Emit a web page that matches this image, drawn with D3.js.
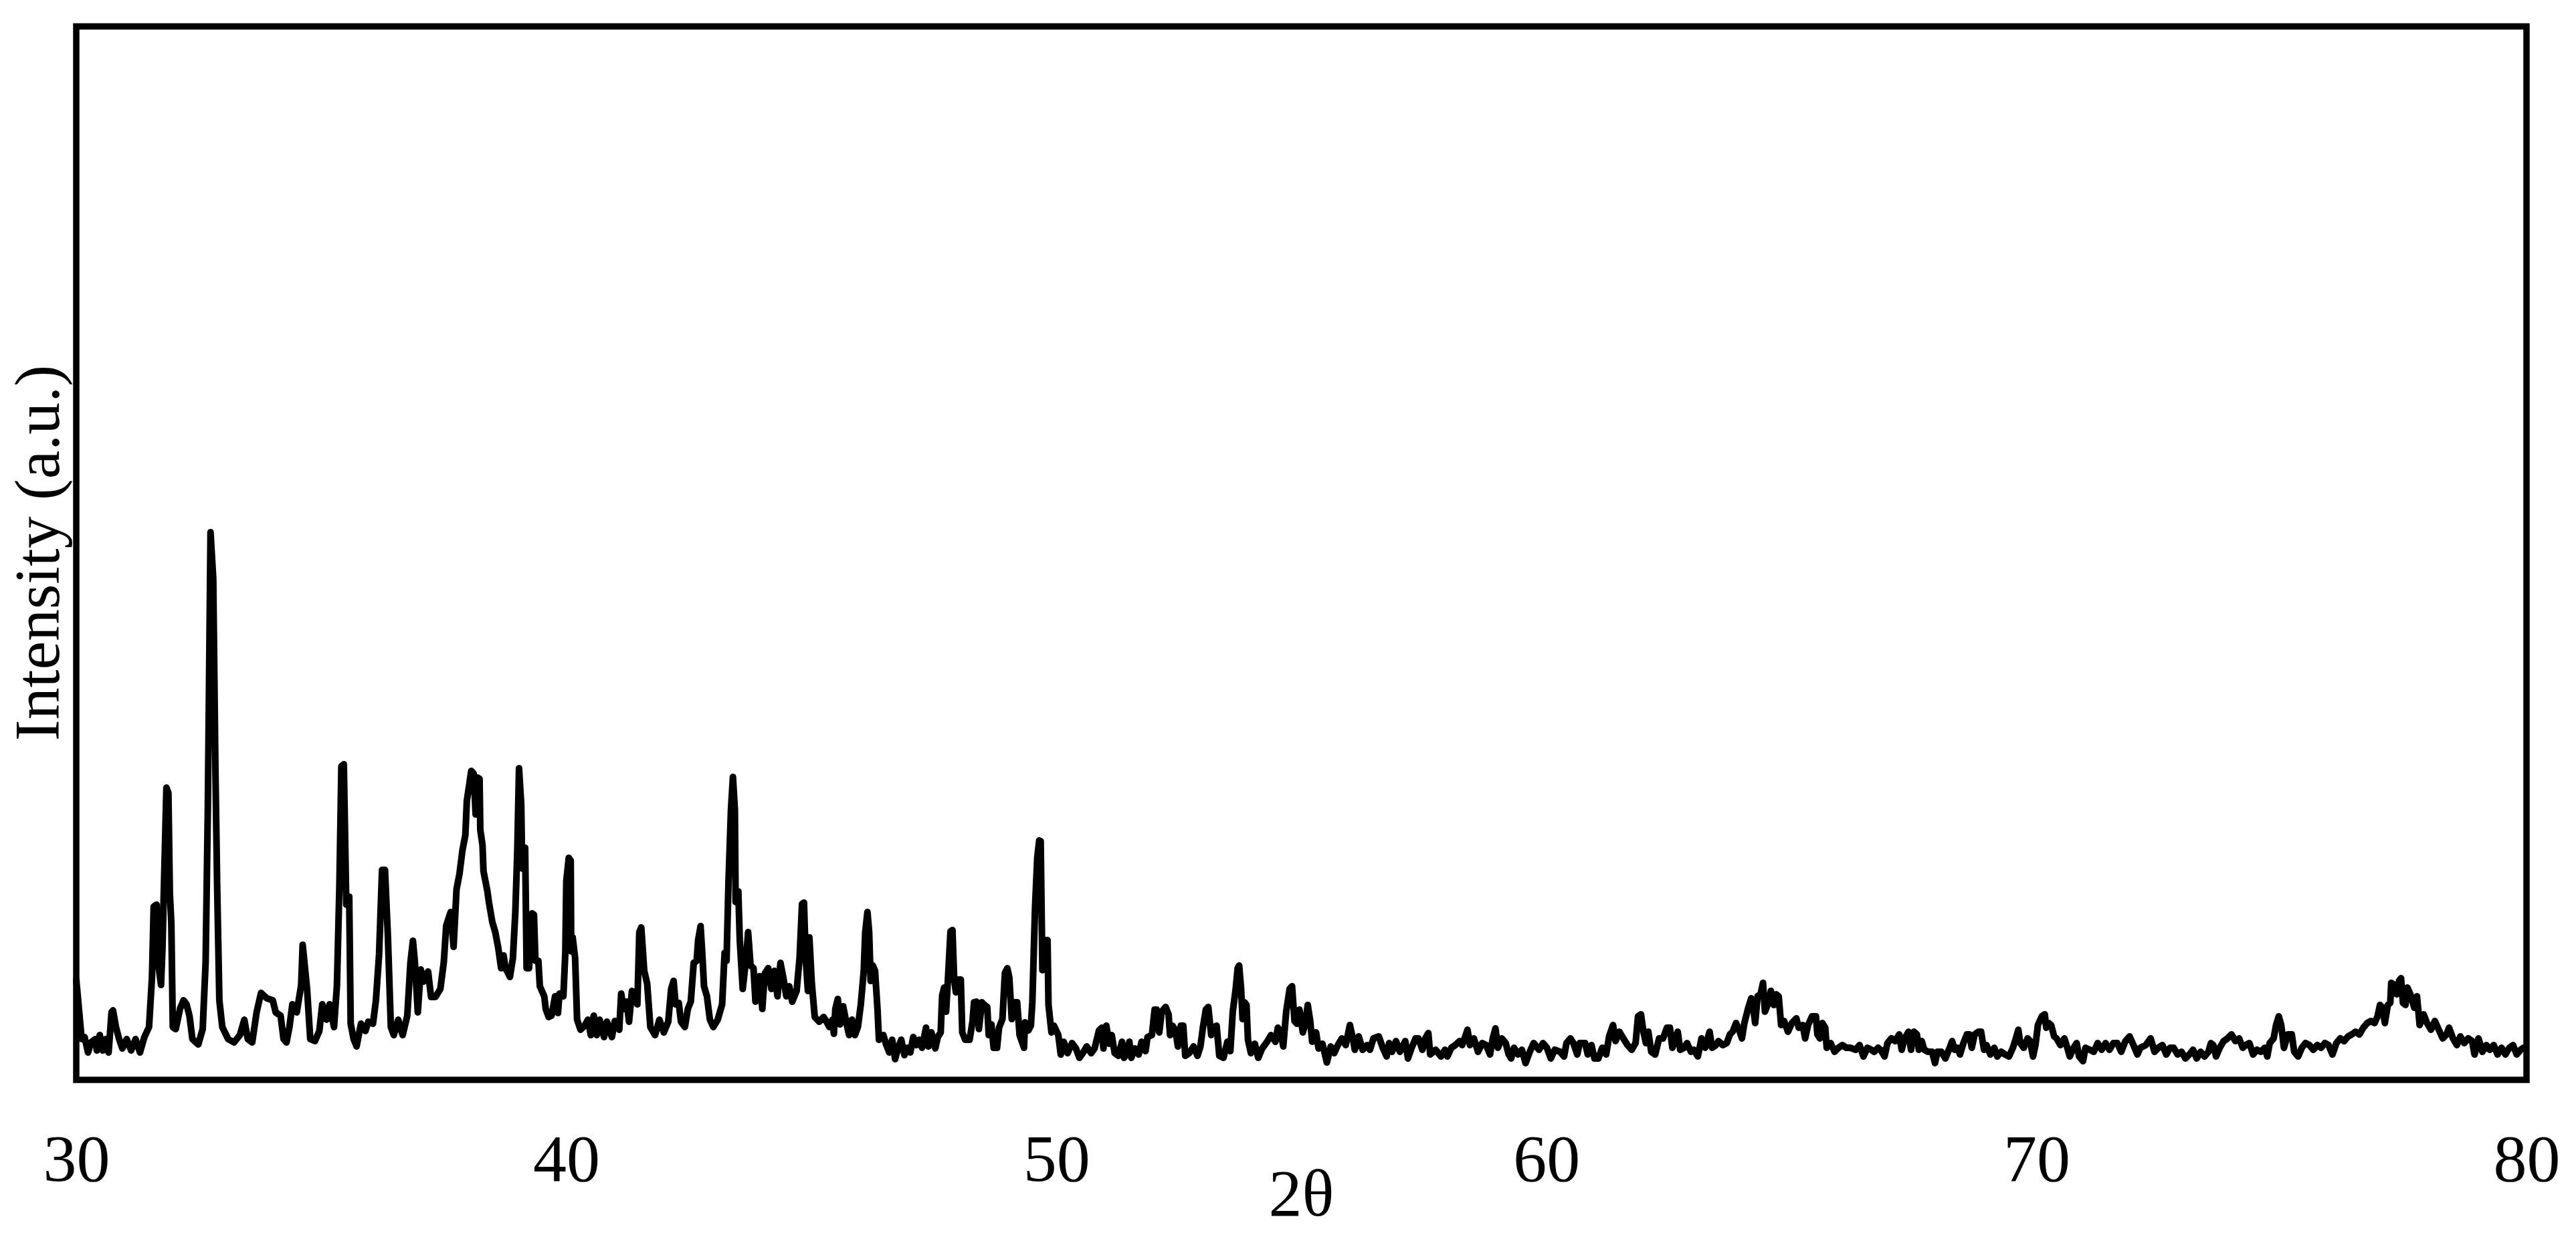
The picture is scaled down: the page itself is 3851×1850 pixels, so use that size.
<!DOCTYPE html>
<html><head><meta charset="utf-8">
<script src="https://cdn.jsdelivr.net/npm/d3@7"></script>
<style>html,body{margin:0;padding:0;background:#fff;} svg{display:block}</style>
</head><body>
<svg id="chart" width="3851" height="1850"></svg>
<script>
// XRD scan: [2θ (deg), intensity (a.u.)]
const xrdScan = [
[30.00,150],[30.11,61],[30.17,64],[30.24,41],[30.30,56],[30.39,61],[30.42,44],[30.48,67],[30.54,44],[30.60,61],
[30.66,41],[30.72,101],[30.75,104],[30.81,79],[30.875,61],[30.94,47],[31.03,61],[31.12,44],[31.21,61],[31.30,41],
[31.39,64],[31.485,79],[31.545,153],[31.58,259],[31.64,262],[31.67,176],[31.73,142],[31.76,199],[31.79,291],[31.84,437],
[31.88,429],[31.91,279],[31.94,234],[31.97,79],[32.03,76],[32.12,107],[32.19,119],[32.25,113],[32.31,96],[32.37,61],
[32.49,53],[32.58,76],[32.64,176],[32.685,406],[32.74,819],[32.795,750],[32.84,463],[32.875,291],[32.92,119],[32.98,79],
[33.10,61],[33.22,56],[33.34,67],[33.43,90],[33.50,61],[33.59,56],[33.68,101],[33.77,130],[33.89,122],[34.01,119],
[34.07,101],[34.17,96],[34.23,61],[34.29,56],[34.35,79],[34.41,113],[34.50,101],[34.59,142],[34.62,202],[34.71,136],
[34.775,61],[34.87,58],[34.96,73],[35.02,113],[35.11,90],[35.17,113],[35.26,79],[35.32,142],[35.37,291],[35.41,469],
[35.46,472],[35.51,262],[35.57,274],[35.60,84],[35.66,61],[35.72,50],[35.81,84],[35.90,73],[35.96,87],[36.055,84],
[36.115,119],[36.18,188],[36.24,314],[36.30,314],[36.36,213],[36.42,79],[36.48,67],[36.57,90],[36.66,67],[36.755,96],
[36.82,176],[36.87,208],[36.91,176],[36.97,101],[37.03,165],[37.09,147],[37.18,162],[37.24,124],[37.33,124],[37.43,136],
[37.50,176],[37.55,231],[37.64,251],[37.70,199],[37.76,285],[37.82,308],[37.88,343],[37.94,366],[37.97,417],[38.06,462],
[38.11,458],[38.15,397],[38.19,452],[38.23,450],[38.245,374],[38.29,351],[38.31,312],[38.39,282],[38.42,266],[38.49,236],
[38.55,221],[38.61,198],[38.67,167],[38.72,186],[38.76,167],[38.85,154],[38.91,182],[38.96,251],[39.00,343],[39.035,466],
[39.08,412],[39.10,316],[39.16,347],[39.19,167],[39.24,167],[39.30,249],[39.34,247],[39.37,178],[39.43,178],[39.46,140],
[39.55,125],[39.58,106],[39.64,94],[39.70,96],[39.77,125],[39.83,100],[39.86,129],[39.94,125],[39.98,190],[40.00,297],
[40.05,332],[40.09,328],[40.10,192],[40.13,213],[40.18,182],[40.22,90],[40.29,75],[40.375,81],[40.44,90],[40.50,67],
[40.56,96],[40.62,67],[40.68,90],[40.77,64],[40.83,87],[40.93,64],[40.99,88],[41.08,75],[41.12,129],[41.17,106],
[41.23,117],[41.28,87],[41.34,133],[41.41,121],[41.45,113],[41.49,221],[41.53,228],[41.59,163],[41.65,144],[41.715,79],
[41.81,67],[41.90,90],[41.99,71],[42.08,87],[42.14,136],[42.19,148],[42.23,113],[42.295,115],[42.34,87],[42.42,79],
[42.48,106],[42.54,117],[42.60,175],[42.66,178],[42.69,209],[42.74,230],[42.78,182],[42.81,140],[42.87,125],[42.93,90],
[43.00,79],[43.09,90],[43.18,113],[43.23,190],[43.27,178],[43.31,297],[43.36,404],[43.40,453],[43.44,404],[43.455,266],
[43.51,282],[43.54,209],[43.60,136],[43.67,182],[43.71,221],[43.76,171],[43.82,167],[43.86,117],[43.94,155],[44.00,106],
[44.05,159],[44.12,167],[44.185,136],[44.245,163],[44.31,125],[44.37,175],[44.43,152],[44.49,125],[44.55,140],[44.61,117],
[44.70,133],[44.76,182],[44.81,263],[44.85,265],[44.885,182],[44.93,133],[44.96,213],[45.01,144],[45.07,94],[45.16,87],
[45.25,94],[45.31,87],[45.37,79],[45.43,90],[45.46,69],[45.49,106],[45.54,121],[45.585,83],[45.65,110],[45.71,87],
[45.77,67],[45.83,90],[45.89,67],[45.95,79],[46.01,113],[46.07,163],[46.10,221],[46.145,251],[46.18,221],[46.21,148],
[46.255,171],[46.30,163],[46.35,106],[46.38,60],[46.47,67],[46.53,52],[46.59,41],[46.65,60],[46.71,31],[46.77,48],
[46.835,60],[46.90,37],[46.96,48],[47.02,41],[47.08,64],[47.14,52],[47.20,60],[47.26,48],[47.34,78],[47.39,50],
[47.45,71],[47.53,47],[47.58,64],[47.64,71],[47.67,126],[47.71,138],[47.75,102],[47.78,140],[47.84,222],[47.88,224],
[47.915,150],[47.95,131],[48.005,150],[48.05,150],[48.08,71],[48.14,60],[48.23,60],[48.29,88],[48.32,116],[48.37,117],
[48.42,76],[48.48,116],[48.535,112],[48.59,109],[48.62,67],[48.675,83],[48.72,48],[48.79,48],[48.83,78],[48.90,91],
[48.95,160],[49.00,167],[49.04,153],[49.09,91],[49.14,116],[49.20,116],[49.25,67],[49.34,48],[49.36,86],[49.43,74],
[49.48,81],[49.51,116],[49.565,257],[49.61,332],[49.65,358],[49.68,357],[49.715,164],[49.76,209],[49.82,209],[49.84,112],
[49.90,71],[49.95,81],[50.04,67],[50.09,38],[50.15,57],[50.23,40],[50.32,55],[50.40,47],[50.47,33],[50.54,40],
[50.62,50],[50.71,40],[50.78,47],[50.87,74],[50.93,78],[50.96,47],[51.02,81],[51.08,54],[51.13,67],[51.19,40],
[51.265,36],[51.34,57],[51.38,33],[51.44,40],[51.49,57],[51.53,33],[51.60,47],[51.68,38],[51.74,57],[51.82,43],
[51.86,64],[51.95,67],[52.005,105],[52.045,105],[52.10,71],[52.15,102],[52.23,109],[52.29,98],[52.32,67],[52.37,81],
[52.43,74],[52.48,50],[52.54,81],[52.59,81],[52.63,36],[52.71,40],[52.80,50],[52.88,36],[52.94,50],[52.99,78],
[53.05,105],[53.10,109],[53.16,67],[53.21,78],[53.27,81],[53.325,36],[53.41,33],[53.49,57],[53.55,43],[53.60,102],
[53.66,136],[53.70,167],[53.73,171],[53.77,136],[53.80,91],[53.84,116],[53.88,112],[53.91,60],[53.97,40],[54.05,54],
[54.12,33],[54.20,47],[54.30,57],[54.38,67],[54.47,57],[54.52,78],[54.58,71],[54.63,50],[54.69,102],[54.76,136],
[54.81,140],[54.86,88],[54.91,84],[54.96,105],[55.03,71],[55.08,84],[55.13,112],[55.18,88],[55.22,57],[55.30,71],
[55.35,47],[55.43,54],[55.52,26],[55.60,50],[55.67,40],[55.745,52],[55.825,62],[55.905,52],[55.99,82],[56.05,62],
[56.09,45],[56.17,65],[56.25,45],[56.34,52],[56.40,45],[56.47,62],[56.58,65],[56.66,48],[56.74,35],[56.79,55],
[56.85,42],[56.93,58],[57.01,42],[57.12,58],[57.175,32],[57.25,48],[57.33,62],[57.39,62],[57.47,45],[57.53,62],
[57.59,70],[57.63,38],[57.74,45],[57.85,35],[57.93,45],[57.98,35],[58.06,48],[58.14,52],[58.23,58],[58.28,52],
[58.33,62],[58.39,75],[58.44,52],[58.52,62],[58.605,42],[58.69,55],[58.77,52],[58.85,38],[58.905,62],[58.96,77],
[59.01,48],[59.09,62],[59.17,55],[59.23,38],[59.28,32],[59.34,48],[59.42,38],[59.50,45],[59.575,25],[59.66,42],
[59.74,55],[59.85,45],[59.93,55],[60.01,48],[60.09,32],[60.17,45],[60.28,42],[60.36,35],[60.41,55],[60.49,62],
[60.55,55],[60.63,38],[60.68,55],[60.79,55],[60.845,38],[60.92,52],[60.98,32],[61.06,32],[61.14,48],[61.22,38],
[61.28,65],[61.36,82],[61.41,58],[61.49,72],[61.57,62],[61.655,52],[61.74,45],[61.82,55],[61.87,95],[61.93,98],
[61.98,72],[62.03,55],[62.08,72],[62.14,42],[62.22,38],[62.30,62],[62.38,62],[62.46,78],[62.52,78],[62.57,48],
[62.62,58],[62.68,72],[62.73,45],[62.81,48],[62.87,55],[62.95,42],[63.01,45],[63.09,35],[63.165,62],[63.24,48],
[63.33,72],[63.38,48],[63.46,52],[63.51,58],[63.60,52],[63.68,55],[63.745,68],[63.80,72],[63.87,85],[63.93,75],
[63.99,62],[64.04,85],[64.12,108],[64.18,122],[64.23,102],[64.26,85],[64.31,125],[64.37,128],[64.42,145],[64.46,102],
[64.53,115],[64.58,133],[64.64,112],[64.69,128],[64.74,125],[64.79,82],[64.85,88],[64.93,72],[65.01,85],[65.10,92],
[65.15,78],[65.23,82],[65.28,62],[65.34,82],[65.42,95],[65.50,95],[65.53,68],[65.58,62],[65.63,85],[65.69,78],
[65.72,48],[65.80,55],[65.88,42],[65.96,48],[66.04,52],[66.12,48],[66.20,48],[66.31,45],[66.39,52],[66.47,35],
[66.55,48],[66.63,45],[66.69,42],[66.77,48],[66.82,45],[66.90,35],[66.96,55],[67.04,62],[67.12,58],[67.20,68],
[67.25,45],[67.31,62],[67.39,72],[67.44,45],[67.50,72],[67.56,68],[67.60,45],[67.66,58],[67.71,45],[67.79,42],
[67.87,42],[67.93,25],[67.98,42],[68.06,42],[68.14,32],[68.23,48],[68.28,58],[68.33,45],[68.39,48],[68.44,38],
[68.51,55],[68.58,68],[68.63,68],[68.68,48],[68.74,68],[68.82,72],[68.87,72],[68.93,45],[68.98,52],[69.06,38],
[69.14,48],[69.20,35],[69.28,42],[69.36,38],[69.44,35],[69.52,48],[69.58,62],[69.63,75],[69.67,55],[69.74,48],
[69.82,62],[69.87,58],[69.93,35],[69.98,52],[70.03,82],[70.11,95],[70.17,98],[70.20,78],[70.25,85],[70.30,82],
[70.36,65],[70.41,62],[70.49,52],[70.57,62],[70.63,48],[70.68,35],[70.76,48],[70.82,55],[70.87,35],[70.95,28],
[71.00,48],[71.09,45],[71.17,42],[71.25,55],[71.33,45],[71.41,55],[71.49,45],[71.57,55],[71.65,55],[71.73,42],
[71.815,58],[71.90,65],[71.98,52],[72.06,38],[72.12,48],[72.23,52],[72.33,62],[72.41,42],[72.49,48],[72.57,52],
[72.65,38],[72.725,48],[72.80,48],[72.88,38],[72.96,42],[73.04,32],[73.12,38],[73.195,45],[73.27,32],[73.35,42],
[73.43,35],[73.51,42],[73.56,55],[73.61,52],[73.665,35],[73.74,48],[73.82,58],[73.90,62],[73.98,68],[74.06,58],
[74.135,62],[74.21,48],[74.27,52],[74.345,55],[74.42,38],[74.50,45],[74.58,42],[74.66,48],[74.71,35],[74.76,55],
[74.84,62],[74.89,82],[74.945,95],[74.995,82],[75.05,48],[75.13,68],[75.21,68],[75.26,42],[75.34,35],[75.415,48],
[75.49,55],[75.57,52],[75.65,45],[75.73,52],[75.81,48],[75.885,55],[75.96,52],[76.04,38],[76.12,55],[76.20,62],
[76.28,58],[76.36,65],[76.435,68],[76.51,72],[76.59,68],[76.67,78],[76.75,85],[76.825,88],[76.90,85],[76.96,95],
[77.01,112],[77.06,108],[77.11,85],[77.17,112],[77.22,115],[77.24,145],[77.30,142],[77.35,128],[77.40,148],[77.44,152],
[77.48,115],[77.53,112],[77.57,138],[77.63,128],[77.71,108],[77.765,125],[77.82,82],[77.90,98],[77.97,85],[78.05,75],
[78.13,88],[78.21,75],[78.29,62],[78.37,68],[78.42,78],[78.50,62],[78.58,52],[78.65,65],[78.73,55],[78.81,62],
[78.89,58],[78.94,38],[79.02,62],[79.10,42],[79.18,52],[79.25,45],[79.33,52],[79.41,38],[79.49,48],[79.57,38],
[79.65,48],[79.725,52],[79.80,38],[79.88,45],[79.94,48]
];

const xDomain = [30, 80];
const yDomain = [0, 1575.5];
const xTicks = [30, 40, 50, 60, 70, 80];
const xTitle = "2θ";
const yTitle = "Intensity (a.u.)";

const svg = d3.select("#chart");
const W = 3851, H = 1850;
const m = {left: 114, right: 3851 - 3777, top: 39.5, bottom: H - 1615};
const FONT = "'Liberation Serif', 'Times New Roman', serif";

svg.append("rect").attr("width", W).attr("height", H).attr("fill", "#fff");

const x = d3.scaleLinear().domain(xDomain).range([m.left, W - m.right]);
const y = d3.scaleLinear().domain(yDomain).range([H - m.bottom, m.top]);

const line = d3.line().x(d => x(d[0])).y(d => y(d[1])).curve(d3.curveLinear);

svg.append("path")
  .datum(xrdScan)
  .attr("d", line)
  .attr("fill", "none")
  .attr("stroke", "#000")
  .attr("stroke-width", 10)
  .attr("stroke-linejoin", "round")
  .attr("stroke-linecap", "round");

// frame
svg.append("rect")
  .attr("x", m.left).attr("y", m.top)
  .attr("width", W - m.right - m.left)
  .attr("height", H - m.bottom - m.top)
  .attr("fill", "none")
  .attr("stroke", "#000")
  .attr("stroke-width", 9.5);

// x axis labels
const gx = svg.append("g")
  .attr("transform", `translate(0,${H - m.bottom})`)
  .call(d3.axisBottom(x).tickValues(xTicks).tickSize(0).tickFormat(d3.format("d")));
gx.select(".domain").remove();
gx.selectAll("text")
  .attr("dy", null)
  .attr("y", 151)
  .attr("fill", "#000")
  .style("font-family", FONT)
  .style("font-size", "100px");

svg.append("text")
  .attr("x", (m.left + W - m.right) / 2)
  .attr("y", 1818)
  .attr("text-anchor", "middle")
  .style("font-family", FONT)
  .style("font-size", "100px")
  .text(xTitle);

svg.append("text")
  .attr("transform", "translate(88,827) rotate(-90)")
  .attr("text-anchor", "middle")
  .style("font-family", FONT)
  .style("font-size", "96px")
  .text(yTitle);
</script>
</body></html>
